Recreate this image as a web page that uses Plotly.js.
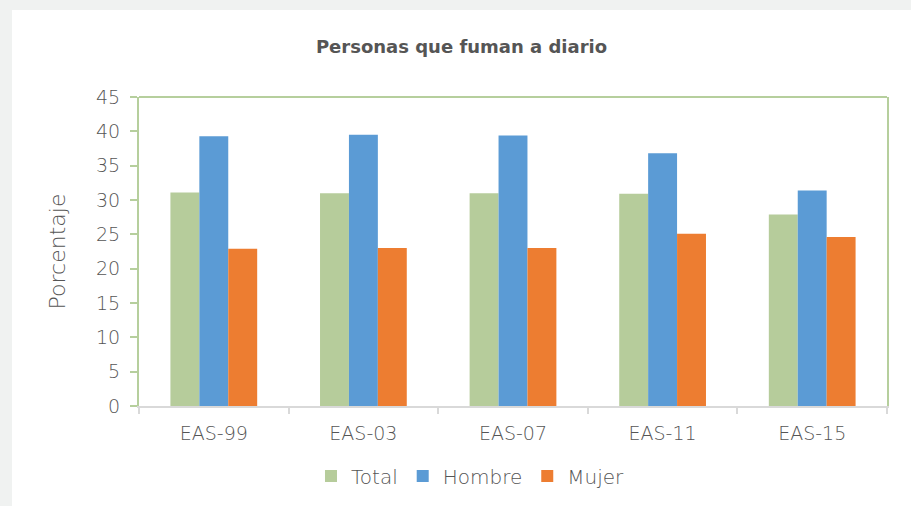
<!DOCTYPE html>
<html>
<head>
<meta charset="utf-8">
<script src="https://cdn.plot.ly/plotly-3.0.1.min.js"></script>
<style>
html,body{margin:0;padding:0;background:#f0f2f1;width:911px;height:506px;overflow:hidden;}
#chart{position:absolute;left:12px;top:10px;width:899px;height:496px;background:#fff;}
</style>
</head>
<body>
<div id="chart"></div>
<script>
const categories = ["EAS-99", "EAS-03", "EAS-07", "EAS-11", "EAS-15"];
const total  = [31.1, 31.0, 31.0, 30.9, 27.9];
const hombre = [39.3, 39.5, 39.4, 36.8, 31.4];
const mujer  = [22.9, 23.0, 23.0, 25.1, 24.6];
const seriesNames = ["Total", "Hombre", "Mujer"];
const colors = ["#b6cc9b", "#5b9bd5", "#ed7d31"];

const FONT = "'DejaVu Sans', sans-serif";
const GRAY = "#555555";
const GREEN = "#b6cf9d";

const data = [total, hombre, mujer].map((vals, i) => ({
  type: "bar",
  name: seriesNames[i],
  x: categories,
  y: vals,
  marker: {color: colors[i]},
  hoverinfo: "x+y+name"
}));

const layout = {
  width: 899,
  height: 496,
  paper_bgcolor: "#ffffff",
  plot_bgcolor: "#ffffff",
  margin: {l: 127, r: 24, t: 87, b: 100},
  barmode: "group",
  bargap: 0.42,
  bargroupgap: 0,
  font: {family: FONT, color: GRAY},
  title: {
    text: "<b>Personas que fuman a diario</b>",
    font: {family: FONT, size: 18, color: GRAY},
    x: 0.5, xref: "container", xanchor: "center",
    y: 1 - 37/496, yref: "container", yanchor: "middle"
  },
  xaxis: {
    type: "category",
    showline: true, linecolor: "#d9d9d9", linewidth: 2,
    ticks: "outside", tickson: "boundaries", ticklen: 6, tickcolor: "#d9d9d9", tickwidth: 2,
    tickfont: {family: FONT, size: 19, weight: 300, color: GRAY},
    showgrid: false, zeroline: false,
    ticklabelstandoff: 9
  },
  yaxis: {
    range: [0, 45], dtick: 5, tick0: 0,
    showline: true, linecolor: GREEN, linewidth: 2, mirror: true,
    ticks: "outside", ticklen: 7, tickcolor: GREEN, tickwidth: 2,
    tickfont: {family: FONT, size: 19, weight: 300, color: GRAY},
    showgrid: false, zeroline: false,
    ticklabelstandoff: 6,
    title: {text: "Porcentaje", font: {family: FONT, size: 22, weight: 300, color: GRAY}, standoff: 24}
  },
  shapes: [{
    type: "line", xref: "paper", yref: "paper",
    x0: 0, x1: 1, y0: 1, y1: 1,
    line: {color: GREEN, width: 2}
  }],
  showlegend: true,
  legend: {
    orientation: "h",
    xref: "container", yref: "container",
    x: 0.51, xanchor: "center",
    y: 30/496, yanchor: "middle",
    font: {family: FONT, size: 20, weight: 300, color: GRAY},
    itemwidth: 30,
    traceorder: "normal"
  }
};

Plotly.newPlot("chart", data, layout, {displayModeBar: false, staticPlot: true});
</script>
</body>
</html>
